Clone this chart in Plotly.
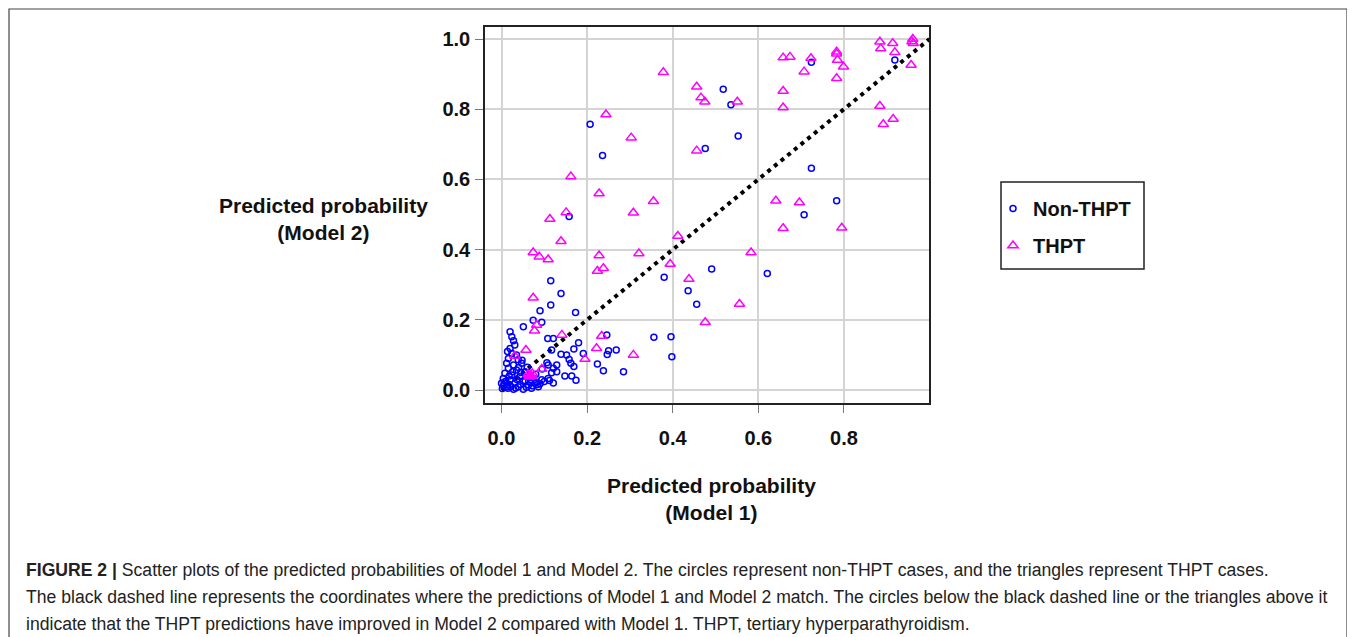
import plotly.graph_objects as go

# ---------------- data ----------------
non_thpt_m1 = [0.919, 0.724, 0.518, 0.536, 0.207, 0.553, 0.476, 0.236, 0.724, 0.783,
               0.707, 0.158, 0.491, 0.621, 0.380, 0.436, 0.456, 0.115, 0.139, 0.115,
               0.090, 0.173, 0.074, 0.094, 0.051, 0.246, 0.356, 0.396, 0.398, 0.108,
               0.121, 0.180, 0.117, 0.169, 0.191, 0.250, 0.247, 0.268, 0.139, 0.152,
               0.158, 0.162, 0.169, 0.224, 0.238, 0.285, 0.106, 0.121, 0.129, 0.117,
               0.148, 0.164, 0.174, 0.112, 0.121, 0.082, 0.109, 0.129,
               0.020, 0.024, 0.028, 0.031, 0.020, 0.024, 0.035, 0.016, 0.039, 0.012,
               0.028, 0.047, 0.016, 0.035, 0.055, 0.008, 0.024, 0.043, 0.004, 0.020,
               0.000, 0.031, 0.055, 0.012, 0.039, 0.063, 0.078, 0.094, 0.109, 0.086,
               0.028, 0.051, 0.070, 0.002, 0.010, 0.045, 0.065, 0.005, 0.015, 0.060,
               0.080, 0.095,
               0.006, 0.014, 0.022, 0.033, 0.044, 0.058, 0.072, 0.084, 0.018, 0.036,
               0.050, 0.068, 0.026, 0.040, 0.090, 0.100, 0.014, 0.048]
non_thpt_m2 = [0.940, 0.934, 0.857, 0.813, 0.757, 0.724, 0.688, 0.668, 0.632, 0.539,
               0.499, 0.494, 0.345, 0.332, 0.321, 0.283, 0.244, 0.311, 0.275, 0.242,
               0.226, 0.221, 0.199, 0.193, 0.180, 0.157, 0.150, 0.152, 0.095, 0.147,
               0.147, 0.135, 0.114, 0.117, 0.104, 0.112, 0.101, 0.114, 0.102, 0.100,
               0.087, 0.076, 0.067, 0.074, 0.055, 0.052, 0.078, 0.062, 0.052, 0.049,
               0.040, 0.040, 0.028, 0.027, 0.020, 0.022, 0.071, 0.071,
               0.166, 0.152, 0.140, 0.128, 0.118, 0.104, 0.100, 0.090, 0.086, 0.076,
               0.071, 0.076, 0.062, 0.057, 0.052, 0.048, 0.043, 0.038, 0.033, 0.029,
               0.019, 0.019, 0.024, 0.009, 0.009, 0.014, 0.019, 0.029, 0.033, 0.009,
               0.002, 0.002, 0.005, 0.004, 0.025, 0.050, 0.035, 0.012, 0.005, 0.065,
               0.045, 0.060,
               0.020, 0.014, 0.010, 0.006, 0.016, 0.008, 0.012, 0.016, 0.040, 0.030,
               0.026, 0.022, 0.052, 0.064, 0.018, 0.024, 0.110, 0.085]

thpt_m1 = [0.884, 0.886, 0.914, 0.919, 0.961, 0.959, 0.962, 0.957, 0.658, 0.674,
           0.723, 0.783, 0.783, 0.785, 0.799, 0.783, 0.707, 0.658, 0.658, 0.884,
           0.892, 0.915, 0.378, 0.456, 0.466, 0.475, 0.551, 0.244, 0.303, 0.456,
           0.162, 0.228, 0.355, 0.308, 0.151, 0.113, 0.641, 0.696, 0.658, 0.795,
           0.139, 0.412, 0.074, 0.088, 0.109, 0.228, 0.321, 0.583, 0.238, 0.224,
           0.394, 0.438, 0.074, 0.556, 0.476, 0.082, 0.077, 0.141, 0.234, 0.222,
           0.308, 0.195, 0.057, 0.031, 0.094, 0.062, 0.067, 0.072, 0.065, 0.070]
thpt_m2 = [0.992, 0.973, 0.988, 0.962, 1.000, 0.993, 0.988, 0.926, 0.947, 0.949,
           0.945, 0.964, 0.958, 0.940, 0.921, 0.888, 0.907, 0.852, 0.805, 0.809,
           0.757, 0.772, 0.905, 0.864, 0.833, 0.821, 0.821, 0.785, 0.719, 0.682,
           0.608, 0.560, 0.538, 0.505, 0.506, 0.487, 0.539, 0.534, 0.461, 0.462,
           0.424, 0.439, 0.392, 0.380, 0.372, 0.383, 0.389, 0.392, 0.347, 0.339,
           0.359, 0.316, 0.263, 0.245, 0.193, 0.185, 0.169, 0.157, 0.154, 0.119,
           0.100, 0.088, 0.114, 0.097, 0.060, 0.045, 0.042, 0.047, 0.038, 0.040]

identity_x = [0.0, 1.0]
identity_y = [0.0, 1.0]

x_ticks = [0.0, 0.2, 0.4, 0.6, 0.8]
x_tick_labels = ["0.0", "0.2", "0.4", "0.6", "0.8"]
y_ticks = [0.0, 0.2, 0.4, 0.6, 0.8, 1.0]
y_tick_labels = ["0.0", "0.2", "0.4", "0.6", "0.8", "1.0"]

series_names = ["Non-THPT", "THPT"]
x_title_lines = ["Predicted probability", "(Model 1)"]
y_title_lines = ["Predicted probability", "(Model 2)"]
caption_lines = [
    "<b>FIGURE 2 |</b> Scatter plots of the predicted probabilities of Model 1 and Model 2. "
    "The circles represent non-THPT cases, and the triangles represent THPT cases.",
    "The black dashed line represents the coordinates where the predictions of Model 1 and "
    "Model 2 match. The circles below the black dashed line or the triangles above it",
    "indicate that the THPT predictions have improved in Model 2 compared with Model 1. "
    "THPT, tertiary hyperparathyroidism.",
]

# ---------------- layout geometry (window pixels) ----------------
OFF = 8                      # page body margin in the browser
W, H = 1355 - OFF, 637 - OFF
PL, PR, PT, PB = 485, 929, 27, 403   # plot area edges (window pixels)


def px(xp):
    return (xp - PL) / (PR - PL)


def py(yp):
    return (PB - yp) / (PB - PT)


FONT = "Liberation Sans, Arial, sans-serif"

fig = go.Figure()

fig.add_trace(go.Scatter(
    x=identity_x, y=identity_y, mode="lines",
    line=dict(color="black", width=4, dash="4px,4.6px"),
    showlegend=False, hoverinfo="skip"))

fig.add_trace(go.Scatter(
    x=non_thpt_m1, y=non_thpt_m2, mode="markers", name=series_names[0],
    legendgroup="a",
    marker=dict(symbol="circle-open", size=6, color="#0000ff",
                line=dict(width=1.5, color="#0000ff"))))

fig.add_trace(go.Scatter(
    x=thpt_m1, y=thpt_m2, mode="markers", name=series_names[1],
    legendgroup="b",
    marker=dict(symbol="triangle-up-open", size=9, color="#ff00ff",
                line=dict(width=1.5, color="#ff00ff"))))


def bold_lines(lines):
    return "<br>".join("<b>" + s + "</b>" for s in lines)


annotations = [
    dict(text=bold_lines(y_title_lines), x=px(323), y=py(219), xref="paper", yref="paper",
         showarrow=False, font=dict(family=FONT, size=21, color="#111"),
         xanchor="center", yanchor="middle", align="center"),
    dict(text=bold_lines(x_title_lines), x=px(711), y=py(499),
         xref="paper", yref="paper", showarrow=False,
         font=dict(family=FONT, size=21, color="#111"),
         xanchor="center", yanchor="middle", align="center"),
]

for i, line in enumerate(caption_lines):
    annotations.append(dict(
        text=line, x=px(24), y=py(570 + 27 * i), xref="paper", yref="paper",
        showarrow=False, xanchor="left", yanchor="middle", align="left",
        font=dict(family=FONT, size=17.6, color="#222")))

shapes = [
    # outer figure frame
    dict(type="rect", xref="paper", yref="paper", x0=px(9), x1=px(1347),
         y0=py(660), y1=py(9), line=dict(color="#444", width=1.2),
         fillcolor="rgba(0,0,0,0)", layer="below"),
    # legend box
    dict(type="rect", xref="paper", yref="paper", x0=px(1001), x1=px(1144),
         y0=py(269), y1=py(182), line=dict(color="#222", width=1.5),
         fillcolor="rgba(0,0,0,0)"),
]

axis_common = dict(
    showgrid=True, gridcolor="#d4d4d4", gridwidth=1.5,
    zeroline=False, showline=True, linecolor="#222", linewidth=1.5, mirror=True,
    ticks="outside", ticklen=8, tickwidth=1.2, tickcolor="#777",
    tickfont=dict(family=FONT, size=20, color="#111", weight="bold"),
)

fig.update_layout(
    width=W, height=H,
    margin=dict(l=PL - OFF, r=W - (PR - OFF), t=PT - OFF, b=H - (PB - OFF), pad=0),
    paper_bgcolor="white", plot_bgcolor="white",
    xaxis=dict(range=[-0.0386, 0.9988], tickvals=x_ticks, ticktext=x_tick_labels,
               ticklabelstandoff=8, **axis_common),
    yaxis=dict(range=[-0.037, 1.0342], tickvals=y_ticks, ticktext=y_tick_labels,
               ticklabelstandoff=1, **axis_common),
    showlegend=True,
    legend=dict(x=px(993), y=py(189), xanchor="left", yanchor="top",
                bgcolor="rgba(0,0,0,0)", borderwidth=0,
                traceorder="grouped", tracegroupgap=8,
                font=dict(family=FONT, size=20, color="#111", weight="bold")),
    annotations=annotations,
    shapes=shapes,
)

fig.write_html("out.html")
